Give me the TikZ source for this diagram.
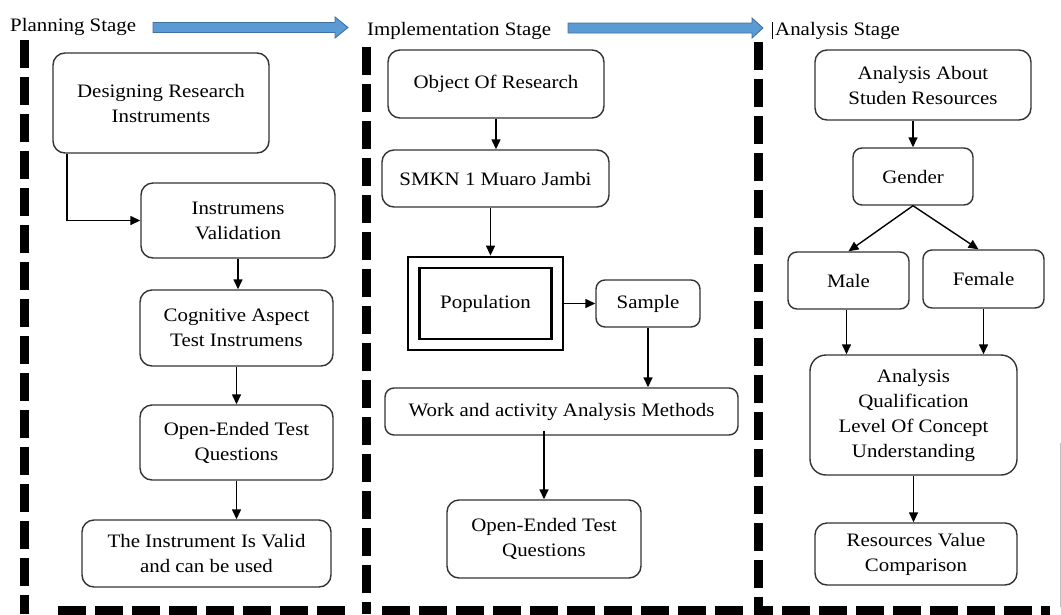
\documentclass[tikz,border=0pt]{standalone}
\usepackage{fontspec}
\setmainfont[FakeStretch=1.1]{Liberation Serif}
\usetikzlibrary{arrows.meta}
\begin{document}
\begin{tikzpicture}[x=1pt,y=-1pt,
  box/.style={draw=black!80,line width=1.4pt,rounded corners=12pt,align=center,
    inner sep=0pt,font=\fontsize{19}{25}\selectfont},
  sq/.style={draw=black,line width=2.8pt,inner sep=0pt,font=\fontsize{19}{25}\selectfont},
  arr/.style={line width=1.4pt,-{Triangle[length=10pt,width=9pt]}},
  frame/.style={line width=9pt,dash pattern=on 28pt off 9pt},
  stage/.style={anchor=base west,inner sep=0pt,font=\fontsize{19}{25}\selectfont},
  bluearrow/.style={fill={rgb,255:red,91;green,155;blue,213},draw={rgb,255:red,65;green,113;blue,156},line width=0.9pt}]
\useasboundingbox (0,0) rectangle (1061,614);

% stage labels
\node[stage] (lp) at (10,31) {Planning Stage};
\node[stage] (li) at (367,35) {Implementation Stage};
\node[stage] (la) at (775,35) {Analysis Stage};
\draw[line width=0.6pt] (772,22) -- (772,39);

% blue block arrows
\draw[bluearrow] (153,22.5) -- (335,22.5) -- (335,17) -- (348,27.5) -- (335,38) -- (335,32.5) -- (153,32.5) -- cycle;
\draw[bluearrow] (568,23) -- (752,23) -- (752,18) -- (763,28) -- (752,38) -- (752,33) -- (568,33) -- cycle;

% dashed frames
\draw[frame] (24,40) -- (24,614);
\draw[frame] (58,610) -- (345,610);
\draw[frame] (366,47) -- (366,614);
\draw[frame] (382,610) -- (745,610);
\draw[frame] (758,42) -- (758,610) -- (1050,610);
\draw[black!25,line width=0.8pt] (1060,443) -- (1060,607);

% planning stage
\node[box,minimum width=216pt,minimum height=100pt] (d1) at (161,103) {Designing Research\\Instruments};
\node[box,minimum width=194pt,minimum height=75pt] (d2) at (238,220.5) {Instrumens\\Validation};
\node[box,minimum width=193pt,minimum height=76pt] (d3) at (236.5,328) {Cognitive Aspect\\Test Instrumens};
\node[box,minimum width=193pt,minimum height=75pt] (d4) at (236.5,442.5) {Open-Ended Test\\Questions};
\node[box,minimum width=249pt,minimum height=67pt] (d5) at (206.5,553.5) {The Instrument Is Valid\\and can be used};

\draw[arr] ([xshift=-94pt]d1.south) |- (d2.west);
\draw[arr] (d2.south) -- (d2.south |- d3.north);
\draw[arr] (d3.south) -- (d3.south |- d4.north);
\draw[arr] (d4.south) -- (d4.south |- d5.north);

% implementation stage
\node[box,minimum width=216pt,minimum height=68pt] (i1) at (496,84) {Object Of Research};
\node[box,minimum width=227pt,minimum height=57pt] (i2) at (495.5,178.5) {SMKN 1 Muaro Jambi};
\node[sq,minimum width=155pt,minimum height=93pt] (ipoout) at (485.5,303.5) {};
\node[sq,minimum width=132pt,minimum height=71pt] (ipo) at (485.5,303.5) {Population};
\node[box,rounded corners=9pt,minimum width=104pt,minimum height=47pt] (is) at (648,303.5) {Sample};
\node[box,rounded corners=9pt,minimum width=353pt,minimum height=47pt] (iw) at (561.5,411.5) {Work and activity Analysis Methods};
\node[box,minimum width=194pt,minimum height=78pt] (io) at (544,539) {Open-Ended Test\\Questions};

\draw[arr] (i1.south) -- (i1.south |- i2.north);
\draw[arr] ([xshift=-5pt]i2.south) -- ([xshift=-5pt]i2.south |- ipoout.north);
\draw[arr] (ipoout.east) -- (is.west);
\draw[arr] (is.south) -- (is.south |- iw.north);
\draw[arr] ([yshift=5pt]io.north |- iw.south) -- (io.north);

% analysis stage
\node[box,minimum width=216pt,minimum height=70pt] (a1) at (923,85) {Analysis About\\Studen Resources};
\node[box,rounded corners=9pt,minimum width=120pt,minimum height=57pt] (a2) at (913,176.5) {Gender};
\node[box,rounded corners=9pt,minimum width=121pt,minimum height=57pt] (a3) at (848.5,280.5) {Male};
\node[box,rounded corners=9pt,minimum width=121pt,minimum height=58pt] (a4) at (983.5,279) {Female};
\node[box,rounded corners=16pt,minimum width=207pt,minimum height=120pt] (a5) at (913.5,415) {Analysis\\Qualification\\Level Of Concept\\Understanding};
\node[box,minimum width=202pt,minimum height=62pt] (a6) at (916,554) {Resources Value\\Comparison};

\draw[arr] (a2.north |- a1.south) -- (a2.north);
\draw[arr] (a2.south) -- (a3.north);
\draw[arr] (a2.south) -- ([xshift=-5pt]a4.north);
\draw[arr] ([xshift=-2pt]a3.south) -- ([xshift=-2pt]a3.south |- a5.north);
\draw[arr] (a4.south) -- (a4.south |- a5.north);
\draw[arr] (a5.south) -- (a5.south |- a6.north);
\end{tikzpicture}
\end{document}
